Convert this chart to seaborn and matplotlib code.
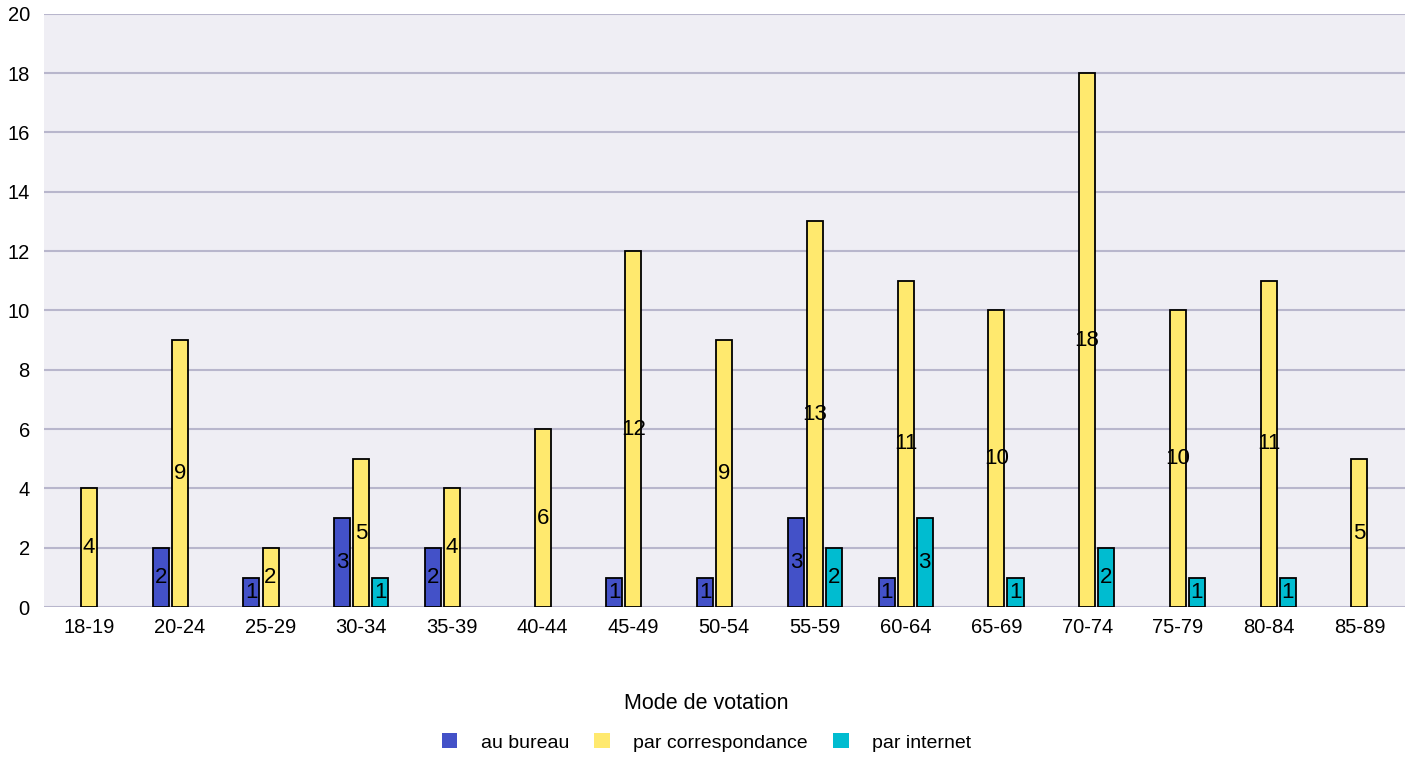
import numpy as np
import pandas as pd
import matplotlib
matplotlib.use('Agg')
import matplotlib.pyplot as plt
import seaborn as sns

# data
ages = ['18-19', '20-24', '25-29', '30-34', '35-39', '40-44', '45-49', '50-54',
        '55-59', '60-64', '65-69', '70-74', '75-79', '80-84', '85-89']
au_bureau = [0, 2, 1, 3, 2, 0, 1, 1, 3, 1, 0, 0, 0, 0, 0]
par_correspondance = [4, 9, 2, 5, 4, 6, 12, 9, 13, 11, 10, 18, 10, 11, 5]
par_internet = [0, 0, 0, 1, 0, 0, 0, 0, 2, 3, 1, 2, 1, 1, 0]
modes = ['au bureau', 'par correspondance', 'par internet']
colors = ['#4351c8', '#ffe96e', '#00bcd0']

rows = []
for mode, vals in zip(modes, [au_bureau, par_correspondance, par_internet]):
    for age, v in zip(ages, vals):
        rows.append({'age': age, 'mode': mode, 'n': v if v > 0 else np.nan})
df = pd.DataFrame(rows)

sns.set_style('white')
plt.rcParams['font.family'] = ['Liberation Sans', 'DejaVu Sans']
plt.rcParams['text.color'] = 'black'
plt.rcParams['xtick.color'] = 'black'
plt.rcParams['ytick.color'] = 'black'

fig = plt.figure(figsize=(14.09, 7.59), dpi=100)
ax = fig.add_axes([0.031, 0.2, 0.966, 0.782])
ax.set_facecolor('#efeef4')

sns.barplot(data=df, x='age', y='n', hue='mode', hue_order=modes, order=ages,
            palette=colors, saturation=1, width=0.63, gap=0.16,
            edgecolor='black', linewidth=1.3, ax=ax, legend=True, zorder=3)

# value labels in the middle of each bar
for container in ax.containers:
    labels = ['' if np.isnan(v) else str(int(v)) for v in container.datavalues]
    ax.bar_label(container, labels=labels, label_type='center', fontsize=16,
                 color='black', zorder=4)

ax.set_ylim(0, 20)
ax.set_yticks(range(0, 21, 2))
ax.set_xlim(-0.5, len(ages) - 0.5)
ax.yaxis.grid(True, color='#b8b6cc', linewidth=1.5, zorder=0)
ax.set_axisbelow(True)
for s in ax.spines.values():
    s.set_visible(False)
ax.tick_params(axis='both', length=0, labelsize=14.5, pad=8)
ax.tick_params(axis='y', pad=10)
ax.set_xlabel('')
ax.set_ylabel('')

leg = ax.legend(title='Mode de votation', loc='upper center', bbox_to_anchor=(0.487, -0.115),
                ncol=3, frameon=False, fontsize=14, title_fontsize=15.5,
                handlelength=0.8, handleheight=0.8, columnspacing=1.3, handletextpad=1.2)
leg._legend_box.sep = 14
for h in leg.legend_handles:
    h.set_edgecolor('none')

fig.savefig('out.png', dpi=100)
